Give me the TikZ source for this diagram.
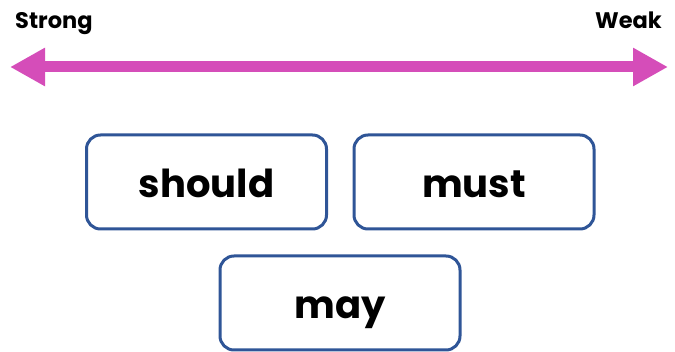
\documentclass[tikz,border=0pt]{standalone}
\usepackage{fontspec}
\setmainfont{Poppins}
\usetikzlibrary{arrows.meta}
\definecolor{arrowpink}{HTML}{D54DB9}
\definecolor{boxblue}{HTML}{2F5597}
\begin{document}
\begin{tikzpicture}[x=1pt,y=-1pt,
  wordbox/.style={draw=boxblue, line width=3pt, rounded corners=14pt, fill=white,
    minimum width=240pt, minimum height=94pt, inner sep=0pt,
    text height=40pt, text depth=8pt,
    font=\fontsize{38.5}{42}\selectfont\bfseries},
  endlabel/.style={inner sep=0pt, font=\fontsize{22.5}{26}\selectfont\bfseries}]
\useasboundingbox (0,0) rectangle (675,352);
\coordinate (L) at (10,67);
\coordinate (R) at (668,67);
\draw[arrowpink, line width=11pt, {Triangle[length=35pt,width=36pt]}-{Triangle[length=35pt,width=36pt]}] (L) -- (R);
\node[endlabel, anchor=base west] (strong) at (15,29) {Strong};
\node[endlabel, anchor=base east] (weak) at (662,29) {Weak};
\node[wordbox] (should) at (206.5,182) {should};
\node[wordbox] (must) at (474,182) {must};
\node[wordbox] (may) at (340,303) {may};
\end{tikzpicture}
\end{document}
